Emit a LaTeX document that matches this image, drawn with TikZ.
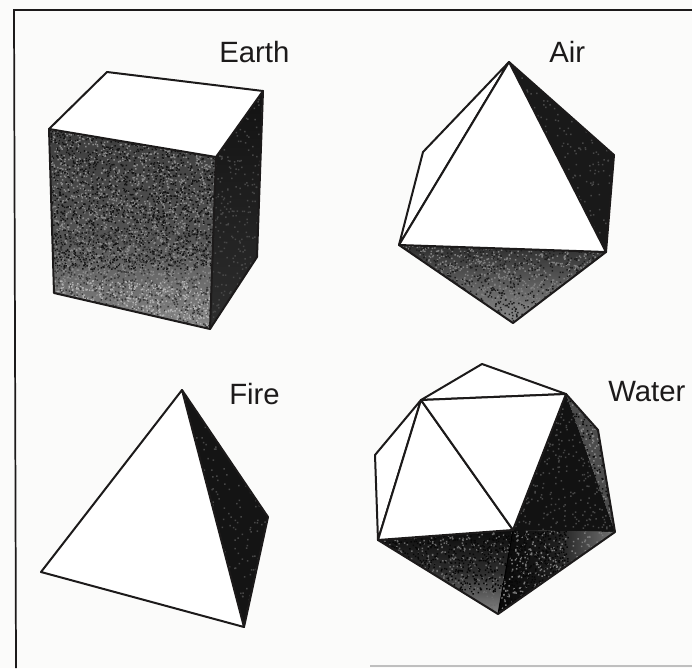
\documentclass[tikz,border=0pt]{standalone}
\usepackage{fontspec}
\setmainfont{Liberation Sans}
\definecolor{paper}{HTML}{FBFBFA}
\definecolor{inkk}{HTML}{1C1A1A}
\tikzset{
  px/.style={x=0.75pt,y=-0.75pt},
  facewhite/.style={fill=white,draw=inkk,line width=1.5pt,line join=round},
  edge/.style={draw=inkk,line width=1.5pt,line join=round,line cap=round},
  lbl/.style={font=\fontsize{22pt}{25pt}\selectfont,text=inkk,inner sep=0pt},
  frameline/.style={draw=inkk,line width=1.3pt}
}
% #1 clip polygon, #2 bbox x0, #3 y0, #4 w, #5 h, #6 count, #7 colour
\newcommand{\speck}[7]{%
  \begin{scope}
    \clip #1;
    \pgfmathtruncatemacro{\nbatch}{#6/50}
    \foreach \b in {1,...,\nbatch}{
      \fill[#7] \foreach \i in {1,...,50}{ ({#2+rnd*#4},{#3+rnd*#5}) rectangle +(1.5,1.5) };
    }
  \end{scope}}
\begin{document}
\begin{tikzpicture}[px]
\pgfmathsetseed{42}
\useasboundingbox (0,0) rectangle (692,668);
\fill[paper] (0,0) rectangle (692,668);
% frame
\coordinate (fbl) at (16,668);
\coordinate (ftl) at (14,10);
\coordinate (ftr) at (692,10);
\draw[frameline] (fbl) -- (ftl) -- (ftr);
\coordinate (fb1) at (370,666);
\coordinate (fb2) at (692,666);
\draw[draw=inkk!28,line width=0.9pt] (fb1) -- (fb2);

% ---------- Earth ----------
\coordinate (c1) at (49,129); \coordinate (c2) at (107,72); \coordinate (c3) at (263,91);
\coordinate (c4) at (216,157); \coordinate (c5) at (210,329); \coordinate (c6) at (54,293);
\coordinate (c7) at (257,257);
\fill[top color=black!76,bottom color=black!48,middle color=black!68] (c1) -- (c4) -- (c5) -- (c6) -- cycle;
\speck{(c1) -- (c4) -- (c5) -- (c6) -- cycle}{49}{129}{167}{200}{2600}{black!46}
\speck{(c1) -- (c4) -- (c5) -- (c6) -- cycle}{49}{129}{167}{140}{1700}{black!92}
\speck{(c1) -- (c4) -- (c5) -- (c6) -- cycle}{49}{230}{167}{100}{1000}{black!78}
\speck{(c1) -- (c4) -- (c5) -- (c6) -- cycle}{49}{280}{167}{50}{500}{black!30}
\fill[top color=black!93,bottom color=black!82] (c4) -- (c3) -- (c7) -- (c5) -- cycle;
\speck{(c4) -- (c3) -- (c7) -- (c5) -- cycle}{210}{91}{53}{238}{350}{black!72}
\path[facewhite] (c1) -- (c2) -- (c3) -- (c4) -- cycle;
\draw[edge] (c1) -- (c6) -- (c5) -- (c7) -- (c3);
\draw[edge] (c4) -- (c5);
\node[lbl,anchor=base west] (earth) at (219,62) {Earth};

% ---------- Air ----------
\coordinate (a1) at (509,62); \coordinate (a2) at (423,152); \coordinate (a3) at (399,245);
\coordinate (a4) at (606,252); \coordinate (a5) at (513,323); \coordinate (a6) at (614,155);
\fill[black!90] (a1) -- (a6) -- (a4) -- cycle;
\speck{(a1) -- (a6) -- (a4) -- cycle}{509}{62}{105}{190}{400}{black!72}
\fill[top color=black!82,bottom color=black!45] (a3) -- (a4) -- (a5) -- cycle;
\speck{(a3) -- (a4) -- (a5) -- cycle}{399}{245}{207}{78}{1100}{black!50}
\speck{(a3) -- (a4) -- (a5) -- cycle}{399}{245}{207}{78}{800}{black!88}
\path[facewhite] (a1) -- (a2) -- (a3) -- cycle;
\path[facewhite] (a1) -- (a3) -- (a4) -- cycle;
\draw[edge] (a3) -- (a5) -- (a4) -- (a6) -- (a1);
\node[lbl,anchor=base west] (air) at (549,62) {Air};

% ---------- Fire ----------
\coordinate (f1) at (182,390); \coordinate (f2) at (41,572);
\coordinate (f3) at (244,627); \coordinate (f4) at (268,517);
\fill[black!92] (f1) -- (f4) -- (f3) -- cycle;
\speck{(f1) -- (f4) -- (f3) -- cycle}{182}{390}{86}{237}{300}{black!72}
\path[facewhite] (f1) -- (f2) -- (f3) -- cycle;
\draw[edge] (f1) -- (f4) -- (f3);
\node[lbl,anchor=base west] (fire) at (229,404) {Fire};

% ---------- Water ----------
\coordinate (w1) at (482,364); \coordinate (w2) at (566,394); \coordinate (w3) at (421,400);
\coordinate (w4) at (375,455); \coordinate (w5) at (378,540); \coordinate (w6) at (513,530);
\coordinate (w7) at (615,532); \coordinate (w8) at (598,430); \coordinate (w9) at (498,614);
% right dark faces
\fill[black!70] (w2) -- (w8) -- (w7) -- cycle;
\speck{(w2) -- (w8) -- (w7) -- cycle}{566}{394}{49}{138}{350}{black!48}
\speck{(w2) -- (w8) -- (w7) -- cycle}{566}{394}{49}{138}{250}{black!95}
\fill[black!93] (w2) -- (w7) -- (w6) -- cycle;
\speck{(w2) -- (w7) -- (w6) -- cycle}{513}{394}{102}{138}{400}{black!72}
% lower faces
\fill[top color=black!95,bottom color=black!48,middle color=black!82] (w5) -- (w6) -- (w9) -- cycle;
\speck{(w5) -- (w6) -- (w9) -- cycle}{378}{530}{135}{84}{550}{black!58}
\speck{(w5) -- (w6) -- (w9) -- cycle}{378}{530}{135}{64}{550}{black!97}
\fill[left color=black!97,right color=black!55,middle color=black!88] (w6) -- (w7) -- (w9) -- cycle;
\speck{(w6) -- (w7) -- (w9) -- cycle}{498}{530}{117}{84}{550}{black!52}
\speck{(w6) -- (w7) -- (w9) -- cycle}{498}{530}{70}{84}{450}{black!97}
\draw[line width=0.7pt,draw=black] (w6) -- (w9);
% white faces
\path[facewhite] (w3) -- (w1) -- (w2) -- cycle;
\path[facewhite] (w3) -- (w4) -- (w5) -- cycle;
\path[facewhite] (w3) -- (w5) -- (w6) -- cycle;
\path[facewhite] (w3) -- (w6) -- (w2) -- cycle;
\draw[edge] (w5) -- (w9) -- (w7) -- (w8) -- (w2);
\node[lbl,anchor=base west] (water) at (608,401) {Water};
\end{tikzpicture}
\end{document}
